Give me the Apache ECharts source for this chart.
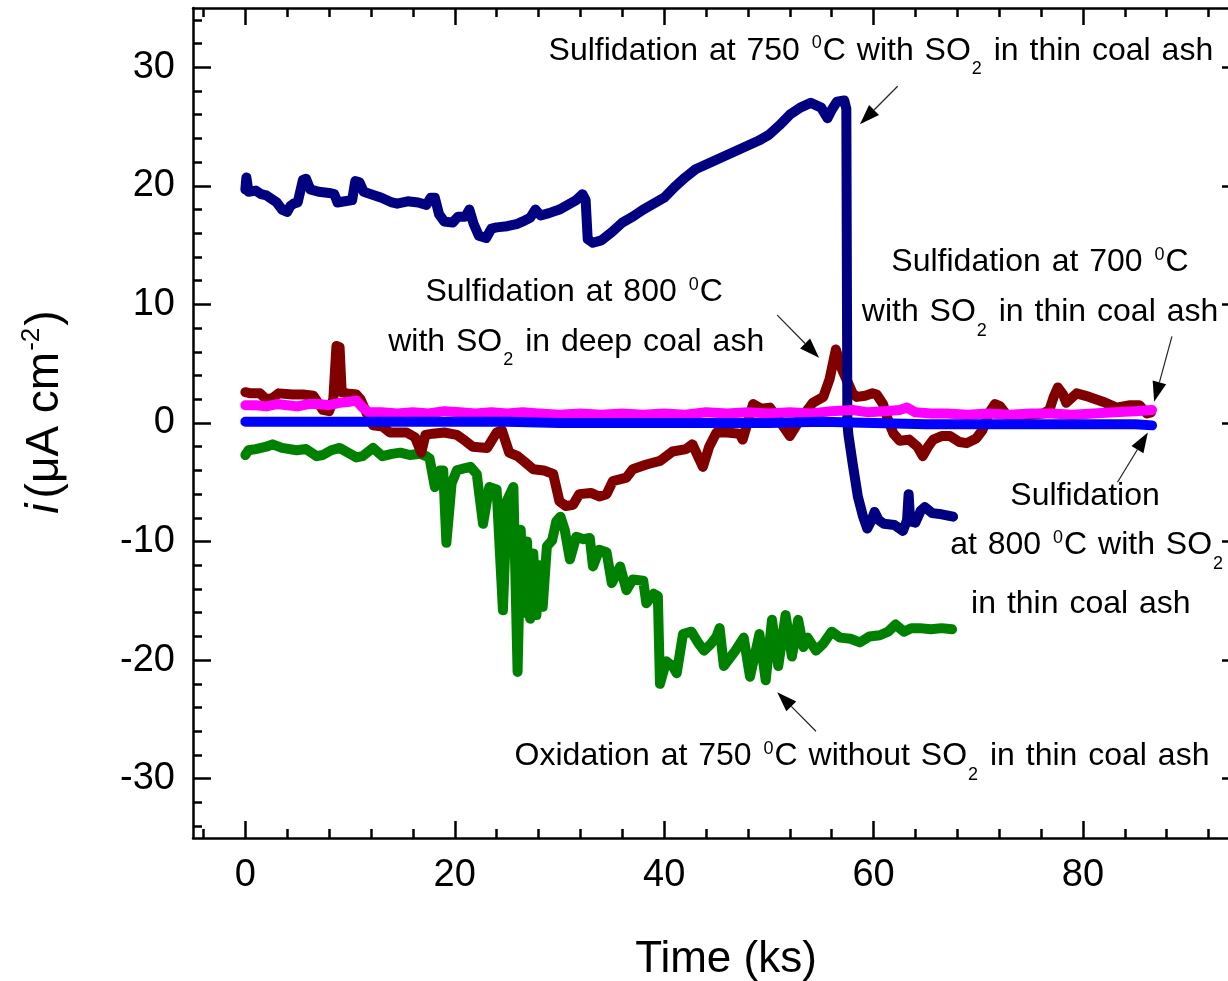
<!DOCTYPE html>
<html>
<head>
<meta charset="utf-8">
<script src="https://cdn.jsdelivr.net/npm/echarts@6/dist/echarts.min.js"></script>
<style>html,body{margin:0;padding:0;background:#fff}#main{width:1228px;height:981px}</style>
</head>
<body>
<div id="main"></div>
<script>
// ---------- data (time in ks, current density in uA/cm2) ----------
const navyData = [[0,19.7],[0.1,20.7],[0.3,19.5],[1,19.6],[1.5,19.3],[2,19.2],[2.5,18.9],[3,18.6],[3.5,18.0],[4,17.8],[4.3,18.3],[4.6,18.5],[5,18.6],[5.5,20.5],[5.8,20.6],[6.2,19.7],[7,19.5],[8,19.4],[8.5,19.3],[8.8,18.6],[9.5,18.7],[10.2,18.8],[10.5,20.4],[10.9,20.3],[11.3,19.5],[12,19.3],[13,19.0],[14,18.6],[14.5,18.5],[15.5,18.7],[16.5,18.6],[17.3,18.4],[17.7,19.0],[18.1,19.0],[18.5,17.6],[19,17.0],[19.8,16.9],[20.3,17.4],[21,17.4],[21.4,18.0],[21.8,16.8],[22.3,15.8],[23.0,15.6],[23.5,16.4],[24,16.5],[25,16.6],[26,16.8],[26.5,17.0],[27.2,17.3],[27.7,18.0],[28.2,17.5],[29,17.7],[30,18.0],[30.8,18.4],[31.6,18.8],[32.2,19.3],[32.5,18.8],[32.7,15.5],[33.2,15.2],[34,15.4],[35,16.1],[36,16.9],[37,17.4],[38,18.0],[39,18.5],[40,19.0],[41,19.9],[42,20.7],[43,21.4],[44,21.8],[45,22.2],[46,22.6],[47,23.0],[48,23.4],[49,23.8],[50,24.3],[51,25.1],[52,26.0],[53,26.6],[54,27.0],[55,26.6],[55.6,25.7],[56,26.4],[56.5,27.1],[57.2,27.2],[57.4,26.5],[57.5,0],[57.6,-1.0],[58,-3.4],[58.5,-6.2],[59,-7.9],[59.4,-8.9],[59.8,-8.2],[60.1,-7.5],[60.5,-8.2],[61,-8.5],[62,-8.6],[62.8,-9.1],[63.2,-8.2],[63.35,-6.0],[63.5,-8.3],[64,-8.4],[64.5,-7.4],[64.9,-7.1],[65.6,-7.6],[66.5,-7.7],[67.6,-7.9]];
const redData = [[0,2.6],[0.5,2.5],[1.4,2.5],[2,2.0],[2.6,2.1],[3.2,2.5],[4.5,2.4],[5.5,2.4],[6.5,2.3],[7.4,1.1],[8,1.0],[8.4,2.0],[8.7,6.5],[9.0,6.4],[9.2,2.6],[9.7,2.5],[10.6,2.4],[11,2.0],[11.6,0.8],[12.2,-0.2],[13.1,-0.3],[13.8,-0.8],[15.4,-0.8],[16.2,-1.2],[16.8,-2.5],[17.2,-1.0],[17.9,-0.9],[19,-0.8],[20.2,-1.0],[21,-1.5],[21.7,-2.0],[23.1,-2.1],[24.0,-0.8],[24.5,-0.6],[25.2,-2.5],[26,-2.8],[26.7,-3.3],[27.5,-3.9],[28.5,-4.0],[29.4,-4.3],[30,-6.6],[30.6,-7.0],[31.3,-6.9],[31.9,-6.0],[33,-5.9],[33.8,-6.2],[34.5,-6.0],[35.1,-4.9],[36.4,-4.6],[37,-3.9],[38.3,-3.5],[39.6,-3.2],[40.8,-2.4],[42.1,-2.2],[42.7,-1.8],[43.7,-3.7],[44.3,-2.0],[45,-0.8],[46,-0.8],[47.2,-0.9],[47.5,-1.4],[48.5,1.6],[49.3,1.2],[50.1,1.3],[51,0.2],[52,-1.1],[53,0.3],[54.2,1.7],[55.2,2.2],[55.8,3.7],[56.4,6.2],[57,4.5],[57.4,3.7],[58,2.5],[58.4,2.2],[59.2,2.3],[59.9,2.5],[60.3,2.4],[60.9,1.6],[61.4,0.2],[61.9,-0.9],[62.5,-1.5],[63.4,-1.4],[64.2,-2.0],[64.7,-2.8],[65.2,-2.0],[65.7,-1.4],[66.5,-1.1],[67.3,-1.1],[68.2,-1.6],[68.9,-1.7],[69.8,-1.3],[70.4,-0.6],[71,0.8],[71.6,1.6],[72.1,1.4],[72.7,0.7],[73.5,0.6],[75,0.7],[76.2,0.8],[76.8,1.1],[77.2,2.2],[77.6,3.0],[78.1,2.4],[78.4,1.7],[79.4,2.5],[80.6,2.2],[81.9,1.8],[83.2,1.3],[84.5,1.5],[85.4,1.5],[86.1,0.8],[86.5,0.9]];
const magentaData = [[0,1.5],[1,1.5],[2,1.4],[3,1.6],[4,1.5],[5,1.4],[6,1.6],[7,1.6],[8,1.5],[9,1.7],[10,1.8],[10.6,1.9],[11.2,1.3],[11.8,0.9],[13,0.9],[14.5,0.8],[16,0.9],[17.5,0.8],[19,1.0],[20.5,0.9],[22,0.8],[23.5,0.9],[25,0.8],[26.5,0.9],[28,0.8],[30,0.7],[32,0.8],[34,0.7],[36,0.8],[38,0.7],[40,0.8],[42,0.7],[44,0.9],[46,0.8],[48,0.9],[50,0.8],[52,0.9],[54,0.8],[56,1.0],[58,1.1],[59.5,0.9],[61,1.0],[62.5,1.1],[63.2,1.3],[64,0.9],[65.5,0.8],[67,0.8],[69,0.7],[71,0.8],[73,0.7],[75,0.8],[77,0.8],[79,0.7],[81,0.8],[83,0.9],[85,1.0],[86.6,1.1]];
const blueData = [[0,0.1],[5,0.1],[10,0.1],[15,0.1],[20,0.1],[25,0.1],[30,0.0],[35,0.0],[40,0.0],[45,0.0],[50,0.0],[55,0.1],[60,0.0],[65,-0.1],[70,-0.1],[75,-0.1],[80,-0.1],[85,-0.1],[86.6,-0.2]];
const greenData = [[0,-2.7],[0.3,-2.3],[1,-2.2],[2,-2.0],[2.6,-1.8],[3.5,-2.1],[4.9,-2.3],[5.8,-2.2],[6.8,-2.8],[7.4,-2.7],[8.2,-2.3],[9,-2.1],[9.8,-2.5],[10.6,-2.9],[11.2,-2.8],[12.2,-2.1],[13.1,-2.8],[14,-2.6],[14.8,-2.5],[15.7,-2.7],[16.7,-2.6],[17.3,-2.8],[17.6,-3.0],[18.1,-5.4],[18.6,-4.0],[18.9,-4.0],[19.2,-10.1],[19.7,-5.1],[20.2,-4.0],[21,-3.8],[21.5,-3.7],[22.1,-4.3],[22.7,-8.5],[23.3,-5.4],[24,-5.6],[24.6,-15.8],[25.0,-6.5],[25.6,-5.4],[26.0,-21.0],[26.3,-9.0],[26.6,-16.0],[26.9,-10.0],[27.2,-16.5],[27.5,-11.0],[27.8,-16.2],[28.1,-12.0],[28.4,-15.5],[28.8,-10.4],[29.3,-9.9],[29.7,-8.3],[30.1,-7.9],[30.5,-9.0],[31,-11.5],[31.6,-9.6],[32.3,-9.8],[32.9,-9.7],[33.2,-12.1],[33.8,-10.7],[34.5,-10.9],[35.0,-13.5],[35.8,-12.1],[36.4,-14.1],[37,-13.2],[38,-13.3],[38.3,-15.2],[39,-14.4],[39.4,-14.6],[39.6,-22.0],[40.2,-20.1],[40.8,-20.5],[41.2,-21.1],[41.8,-17.8],[42.6,-17.6],[43.3,-18.6],[43.8,-19.2],[44.4,-18.7],[45.0,-18.0],[45.3,-17.3],[45.7,-20.5],[46.8,-19.2],[47.6,-18.1],[48.2,-21.4],[49.1,-17.8],[49.7,-21.7],[50.3,-16.6],[50.9,-20.5],[51.6,-16.2],[52.2,-19.7],[52.8,-16.6],[53.3,-18.9],[53.7,-18.1],[54.5,-19.2],[55.2,-18.6],[56,-17.6],[56.8,-18.1],[57.8,-18.2],[58.7,-18.5],[59.6,-18.0],[60.6,-17.9],[61.4,-17.6],[62.1,-17.0],[62.9,-17.6],[63.6,-17.3],[64.4,-17.3],[65.5,-17.4],[66.5,-17.3],[67.5,-17.4]];

const xMajorTicks = [0, 20, 40, 60, 80];
const xMinorTicks = [-4,0,4,8,12,16,20,24,28,32,36,40,44,48,52,56,60,64,68,72,76,80,84,88,92];
const yMajorTicks = [-30, -20, -10, 0, 10, 20, 30];
const yMinorTicks = [-34,-32,-30,-28,-26,-24,-22,-20,-18,-16,-14,-12,-10,-8,-6,-4,-2,0,2,4,6,8,10,12,14,16,18,20,22,24,26,28,30,32,34];

// annotation texts (^x = superscript, _x = subscript) with anchor in data units
const annotationTexts = [
  'Sulfidation at 750 ^0C with SO_2 in thin coal ash',
  'Sulfidation at 800 ^0C',
  'with SO_2 in deep coal ash',
  'Sulfidation at 700 ^0C',
  'with SO_2 in thin coal ash',
  'Sulfidation',
  'at 800 ^0C with SO_2',
  'in thin coal ash',
  'Oxidation at 750 ^0C without SO_2 in thin coal ash'
];
const annotationAnchors = [[60.7,31.4],[31.4,11.0],[31.6,6.85],[75.9,13.55],[75.9,9.35],[80.2,-6.2],[80.4,-10.3],[79.8,-15.3],[58.9,-28.1]];
const arrowTails = [[62.3,28.4],[50.8,9.1],[88.5,7.3],[83.3,-5.0],[54.5,-26.0]];
const arrowTips  = [[58.7,25.2],[54.8,5.5],[86.8,1.8],[86.2,-0.8],[50.8,-22.7]];

// ---------- chart ----------
const FONT = "'Liberation Sans', Arial, sans-serif";
const chart = echarts.init(document.getElementById('main'), null, {renderer: 'canvas'});

function tickAxis(extra) {
  return Object.assign({
    type: 'value', gridIndex: 0,
    axisLine: {show: false, onZero: false},
    axisLabel: {show: false},
    splitLine: {show: false}
  }, extra);
}
const lineSty = {color: '#000', width: 2.5};
const tickSty = {color: '#000', width: 2.5};

const xRange = {min: -5, max: 95};
const yRange = {min: -35, max: 35};

function lineSeries(name, data, color) {
  return {
    name, type: 'line', data, xAxisIndex: 0, yAxisIndex: 0,
    showSymbol: false, symbol: 'none', smooth: false, animation: false,
    lineStyle: {color, width: 10, cap: 'round', join: 'round'},
    emphasis: {disabled: true}
  };
}

chart.setOption({
  animation: false,
  backgroundColor: '#fff',
  textStyle: {fontFamily: FONT},
  grid: {left: 193, top: 8, width: 1047, height: 830, containLabel: false, outerBoundsMode: 'none'},
  xAxis: [
    Object.assign({}, xRange, {
      type: 'value', position: 'bottom',
      axisLine: {show: true, onZero: false, lineStyle: lineSty},
      axisTick: {show: true, inside: true, length: 17, customValues: xMajorTicks, lineStyle: tickSty},
      axisLabel: {show: true, customValues: xMajorTicks, fontSize: 38, color: '#000', margin: 19, fontFamily: FONT},
      splitLine: {show: false},
      name: 'Time (ks)', nameLocation: 'middle', nameGap: 100,
      nameTextStyle: {fontSize: 44, color: '#000', fontFamily: FONT, padding: [0, 0, 0, 19]}
    }),
    tickAxis(Object.assign({}, xRange, {position: 'bottom', axisTick: {show: true, inside: true, length: 9, customValues: xMinorTicks, lineStyle: tickSty}})),
    tickAxis(Object.assign({}, xRange, {position: 'top', axisLine: {show: true, onZero: false, lineStyle: lineSty}, axisTick: {show: true, inside: true, length: 17, customValues: xMajorTicks, lineStyle: tickSty}})),
    tickAxis(Object.assign({}, xRange, {position: 'top', axisTick: {show: true, inside: true, length: 9, customValues: xMinorTicks, lineStyle: tickSty}}))
  ],
  yAxis: [
    Object.assign({}, yRange, {
      type: 'value', position: 'left',
      axisLine: {show: true, onZero: false, lineStyle: lineSty},
      axisTick: {show: true, inside: true, length: 18, customValues: yMajorTicks, lineStyle: tickSty},
      axisLabel: {show: true, customValues: yMajorTicks, fontSize: 38, color: '#000', margin: 18, fontFamily: FONT},
      splitLine: {show: false},
      name: '{i|i}{n|(μA cm}{sup|-2}{n|)}', nameLocation: 'middle', nameGap: 122, nameRotate: 90,
      nameTextStyle: {
        color: '#000', fontFamily: FONT, fontSize: 46, padding: [0, 0, 0, 22],
        rich: {
          i: {fontSize: 46, fontStyle: 'italic', fontFamily: FONT, color: '#000', padding: [0, 5, 0, 0]},
          n: {fontSize: 46, fontFamily: FONT, color: '#000'},
          sup: {fontSize: 26, fontFamily: FONT, color: '#000', padding: [0, 2, 26, 1]}
        }
      }
    }),
    tickAxis(Object.assign({}, yRange, {position: 'left', axisTick: {show: true, inside: true, length: 9, customValues: yMinorTicks, lineStyle: tickSty}})),
    tickAxis(Object.assign({}, yRange, {position: 'right', axisLine: {show: true, onZero: false, lineStyle: lineSty}, axisTick: {show: true, inside: true, length: 18, customValues: yMajorTicks, lineStyle: tickSty}})),
    tickAxis(Object.assign({}, yRange, {position: 'right', axisTick: {show: true, inside: true, length: 9, customValues: yMinorTicks, lineStyle: tickSty}}))
  ],
  series: [
    lineSeries('Oxidation at 750 °C without SO2 in thin coal ash', greenData, '#008000'),
    lineSeries('Sulfidation at 800 °C with SO2 in deep coal ash', redData, '#800000'),
    lineSeries('Sulfidation at 750 °C with SO2 in thin coal ash', navyData, '#000080'),
    lineSeries('Sulfidation at 700 °C with SO2 in thin coal ash', magentaData, '#FF00FF'),
    lineSeries('Sulfidation at 800 °C with SO2 in thin coal ash', blueData, '#0000FF')
  ]
});

// ---------- annotations ----------
const richStyles = {
  t: {fontSize: 32, fontFamily: FONT, color: '#000'},
  sp: {fontSize: 32, fontFamily: FONT, color: '#000', padding: [0, 2, 0, 0]},
  sup: {fontSize: 18, fontFamily: FONT, color: '#000', padding: [0, 1, 15, 1]},
  sub: {fontSize: 18, fontFamily: FONT, color: '#000', padding: [37, 1, 0, 1]}
};
function toRich(s) {
  const parts = s.split(/(\^.|_.| )/).filter(p => p !== '');
  return parts.map(p => {
    if (p === ' ') return '{sp| }';
    if (p[0] === '^' && p.length === 2) return '{sup|' + p[1] + '}';
    if (p[0] === '_' && p.length === 2) return '{sub|' + p[1] + '}';
    return '{t|' + p + '}';
  }).join('');
}
function toPx(p) { return chart.convertToPixel({gridIndex: 0}, p); }

const graphics = [];
annotationTexts.forEach((txt, k) => {
  const p = toPx(annotationAnchors[k]);
  graphics.push({
    type: 'text', x: p[0], y: p[1], silent: true, z: 10,
    style: {text: toRich(txt), rich: richStyles, align: 'center', verticalAlign: 'middle', fill: '#000', fontSize: 32, fontFamily: FONT}
  });
});
arrowTails.forEach((tail, k) => {
  const a = toPx(tail), b = toPx(arrowTips[k]);
  const dx = b[0] - a[0], dy = b[1] - a[1];
  const len = Math.sqrt(dx * dx + dy * dy);
  const ux = dx / len, uy = dy / len;
  const L = 20, W = 7;
  const bx = b[0] - ux * L, by = b[1] - uy * L;
  graphics.push({
    type: 'line', silent: true, z: 10,
    shape: {x1: a[0], y1: a[1], x2: bx, y2: by},
    style: {stroke: '#222', lineWidth: 1.2}
  });
  graphics.push({
    type: 'polygon', silent: true, z: 10,
    shape: {points: [[b[0], b[1]], [bx - uy * W, by + ux * W], [bx + uy * W, by - ux * W]]},
    style: {fill: '#000'}
  });
});
chart.setOption({graphic: graphics});
</script>
</body>
</html>
